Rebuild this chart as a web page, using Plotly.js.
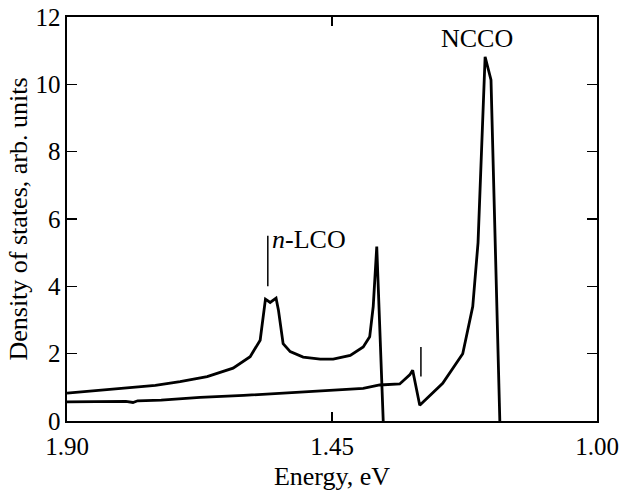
<!DOCTYPE html>
<html><head><meta charset="utf-8">
<script src="https://cdn.plot.ly/plotly-3.0.1.min.js"></script>
<style>html,body{margin:0;padding:0;background:#fff}#chart{width:621px;height:495px}</style>
</head><body><div id="chart"></div>
<script>
// n-LCO curve (energy eV, density of states)
const lcoE = [1.90, 1.85, 1.793, 1.75, 1.708, 1.662, 1.618, 1.589, 1.572, 1.567, 1.563, 1.555, 1.545, 1.541, 1.533, 1.521, 1.499, 1.470, 1.448, 1.419, 1.397, 1.386, 1.380, 1.374, 1.363];
const lcoY = [0.83, 0.90, 0.98, 1.06, 1.17, 1.32, 1.57, 1.91, 2.40, 3.00, 3.62, 3.52, 3.65, 3.30, 2.30, 2.06, 1.90, 1.84, 1.84, 1.95, 2.20, 2.50, 3.40, 5.18, 0.0];
// NCCO curve
const nccoE = [1.90, 1.85, 1.80, 1.788, 1.78, 1.74, 1.674, 1.60, 1.560, 1.470, 1.397, 1.369, 1.335, 1.318, 1.313, 1.301, 1.262, 1.228, 1.211, 1.202, 1.190, 1.180, 1.173, 1.165];
const nccoY = [0.57, 0.57, 0.58, 0.55, 0.60, 0.62, 0.70, 0.76, 0.80, 0.90, 0.97, 1.07, 1.10, 1.37, 1.51, 0.47, 1.12, 2.00, 3.40, 5.30, 10.82, 10.13, 5.20, 0.0];
// marker bars
const mark1E = [1.559, 1.559];
const mark1Y = [4.0, 5.5];
const mark2E = [1.299, 1.299];
const mark2Y = [1.32, 2.2];
// axis ticks
const xTickVals = [1.90, 1.45, 1.00];
const xTickText = ['1.90', '1.45', '1.00'];
const yTickVals = [0, 2, 4, 6, 8, 10, 12];

const FAM = 'Liberation Serif, Times New Roman, serif';
function F(s) { return {family: FAM, size: s, color: '#000'}; }
const traces = [
  {x: lcoE, y: lcoY, mode: 'lines', line: {color: '#000', width: 2.8}, hoverinfo: 'skip'},
  {x: nccoE, y: nccoY, mode: 'lines', line: {color: '#000', width: 2.8}, hoverinfo: 'skip'},
  {x: mark1E, y: mark1Y, mode: 'lines', line: {color: '#000', width: 1.5}, hoverinfo: 'skip'},
  {x: mark2E, y: mark2Y, mode: 'lines', line: {color: '#000', width: 1.5}, hoverinfo: 'skip'}
];
const layout = {
  width: 621, height: 495,
  margin: {l: 67, r: 24, t: 17, b: 74},
  paper_bgcolor: '#fff', plot_bgcolor: '#fff',
  showlegend: false,
  font: F(25),
  xaxis: {
    range: [1.90, 1.00], tickvals: xTickVals, ticktext: xTickText,
    ticks: 'inside', ticklen: 9, tickwidth: 1.3, tickcolor: '#000',
    showline: true, linecolor: '#000', linewidth: 1.6, mirror: 'ticks',
    showgrid: false, zeroline: false,
    tickfont: F(25), ticklabelstandoff: 2,
    title: {text: 'Energy, eV', font: F(26), standoff: 8}
  },
  yaxis: {
    range: [0, 12], tickvals: yTickVals,
    ticks: 'inside', ticklen: 10, tickwidth: 1.3, tickcolor: '#000',
    showline: true, linecolor: '#000', linewidth: 1.6, mirror: 'ticks',
    showgrid: false, zeroline: false,
    tickfont: F(25),
    title: {text: 'Density of states, arb. units', font: F(26), standoff: 0}
  },
  annotations: [
    {x: 1.555, y: 5.4, xref: 'x', yref: 'y', text: '<i>n</i>-LCO', showarrow: false, xanchor: 'left', yanchor: 'middle', font: F(26)},
    {x: 1.204, y: 11.37, xref: 'x', yref: 'y', text: 'NCCO', showarrow: false, xanchor: 'center', yanchor: 'middle', font: F(26)}
  ]
};
Plotly.newPlot('chart', traces, layout, {staticPlot: true, displayModeBar: false});
</script>
</body></html>
